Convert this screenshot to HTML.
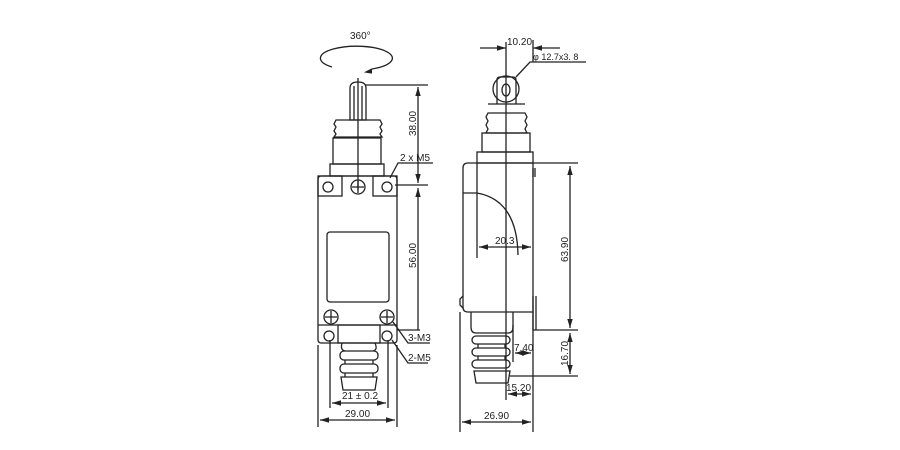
<!DOCTYPE html>
<html><head><meta charset="utf-8"><style>
html,body{margin:0;padding:0;background:#fff;}
svg{display:block;}
text{font-family:"Liberation Sans",sans-serif;font-size:10px;fill:#222;}
</style></head><body>
<svg width="900" height="450" viewBox="0 0 900 450" xmlns="http://www.w3.org/2000/svg">
<defs>
<marker id="a" viewBox="0 0 10 10" refX="10" refY="5" markerWidth="7" markerHeight="7" orient="auto-start-reverse"><path d="M0,2 L10,5 L0,8 z" fill="#222"/></marker>
</defs>
<g fill="none" stroke="#222" stroke-width="1.3">
<!-- LEFT VIEW -->
<path d="M332,67 A36,12 0 1 1 372,69"/>
<path d="M372,69 L366,72 L372,73" fill="#222"/>
<path d="M350,88 Q350,82 358,82 Q366,82 366,88 L366,120 L350,120 Z"/>
<path d="M354,86 V120 M362,86 V120"/>
<path d="M336,120 L380,120 L382,124 L380,127 L382,131 L380,134 L382,137 L334,137 L336,134 L334,131 L336,127 L334,124 Z"/>
<rect x="333" y="138" width="48" height="26"/>
<rect x="330" y="164" width="54" height="12"/>
<rect x="318" y="176" width="79" height="167" rx="3"/>
<rect x="318" y="176" width="24" height="20"/>
<rect x="373" y="176" width="24" height="20"/>
<circle cx="328" cy="187" r="5"/>
<circle cx="387" cy="187" r="5"/>
<circle cx="358" cy="187" r="7"/>
<path d="M352,187 H364 M358,181 V193"/>
<rect x="327" y="232" width="62" height="70" rx="3"/>
<circle cx="331" cy="317" r="7"/><path d="M325,317 H337 M331,311 V323"/>
<circle cx="387" cy="317" r="7"/><path d="M381,317 H393 M387,311 V323"/>
<path d="M318,325 H397"/>
<rect x="338" y="325" width="42" height="18"/>
<circle cx="329" cy="336" r="5"/>
<circle cx="387" cy="336" r="5"/>
<path d="M342,343 Q340,350 345,351 M375,343 Q378,350 373,351"/>
<rect x="340" y="351" width="38" height="9" rx="4"/>
<path d="M345,360 V364 M373,360 V364"/>
<rect x="340" y="364" width="38" height="9" rx="4"/>
<path d="M345,373 V377 M373,373 V377"/>
<path d="M341,377 L377,377 L375,390 L343,390 Z"/>
<path d="M358,78 V190"/>
<!-- left dims -->
<path d="M365,85 H428"/>
<path d="M395,185 H428"/>
<path d="M390,178 L398,163 H433"/>
<path d="M418,87 V183" marker-start="url(#a)" marker-end="url(#a)"/>
<path d="M418,188 V330" marker-start="url(#a)"/>
<path d="M397,330 H420"/>
<path d="M393,322 L408,343 H430"/>
<path d="M392,340 L408,363 H428"/>
<path d="M330,340 V408 M388,340 V408"/>
<path d="M332,403 H386" marker-start="url(#a)" marker-end="url(#a)"/>
<path d="M318,345 V427 M397,345 V427"/>
<path d="M320,420 H395" marker-start="url(#a)" marker-end="url(#a)"/>
<!-- RIGHT VIEW -->
<circle cx="506" cy="89" r="13"/>
<path d="M497,104 V80 Q497,77 500,77 H513 Q516,77 516,80 V104"/>
<ellipse cx="506" cy="90" rx="4" ry="6"/>
<path d="M488,113 L525,113 L527,117 L525,121 L527,125 L525,129 L527,133 L486,133 L488,129 L486,125 L488,121 L486,117 Z"/>
<path d="M488,104 H525"/>
<rect x="482" y="133" width="48" height="19"/>
<rect x="477" y="152" width="56" height="11"/>
<path d="M533,312 H468 Q463,312 463,307 V168 Q463,163 468,163 H533 Z"/>
<path d="M477,163 V193 M463,193 H477 Q517,200 518,255"/>
<path d="M477,193 V258"/>
<path d="M533,168 V177 M535,168 V177"/>
<path d="M533,296 V330 M536,296 V330"/>
<path d="M463,296 L460,299 V305 L463,308"/>
<path d="M471,312 V327 Q471,333 476,333 H508 Q513,333 513,327 V312"/>
<rect x="472" y="336" width="38" height="8" rx="4"/>
<path d="M478,344 V348 M505,344 V348"/>
<rect x="472" y="348" width="38" height="8" rx="4"/>
<path d="M478,356 V360 M505,356 V360"/>
<rect x="472" y="360" width="38" height="8" rx="4"/>
<path d="M474,371 L510,371 L508,383 L476,383 Z"/>
<path d="M506,42 V400"/>
<!-- right dims -->
<path d="M533,40 V62"/>
<path d="M480,48 H506" marker-end="url(#a)"/>
<path d="M560,48 H533" marker-end="url(#a)"/>
<path d="M516,77 L530,62 H586"/>
<path d="M479,247 H531" marker-start="url(#a)" marker-end="url(#a)"/>
<path d="M533,163 H578 M533,330 H578 M510,376 H578"/>
<path d="M570,166 V328" marker-start="url(#a)" marker-end="url(#a)"/>
<path d="M570,333 V374" marker-start="url(#a)" marker-end="url(#a)"/>
<path d="M513,325 V362"/>
<path d="M515,353 H531" marker-start="url(#a)" marker-end="url(#a)"/>
<path d="M508,394 H531" marker-start="url(#a)" marker-end="url(#a)"/>
<path d="M460,312 V432 M533,312 V432"/>
<path d="M462,422 H531" marker-start="url(#a)" marker-end="url(#a)"/>
</g>
<text x="350" y="39">360°</text>
<text x="416" y="136" transform="rotate(-90 416 136)">38.00</text>
<text x="416" y="268" transform="rotate(-90 416 268)">56.00</text>
<text x="400" y="161">2 x M5</text>
<text x="408" y="341">3-M3</text>
<text x="408" y="361">2-M5</text>
<text x="342" y="399">21 ± 0.2</text>
<text x="345" y="417">29.00</text>
<text x="507" y="45">10.20</text>
<text x="533" y="60" style="font-size:9px">φ 12.7x3. 8</text>
<text x="495" y="244">20.3</text>
<text x="568" y="262" transform="rotate(-90 568 262)">63.90</text>
<text x="568" y="366" transform="rotate(-90 568 366)">16.70</text>
<text x="514" y="351">7.40</text>
<text x="506" y="391">15.20</text>
<text x="484" y="419">26.90</text>
</svg>
</body></html>
